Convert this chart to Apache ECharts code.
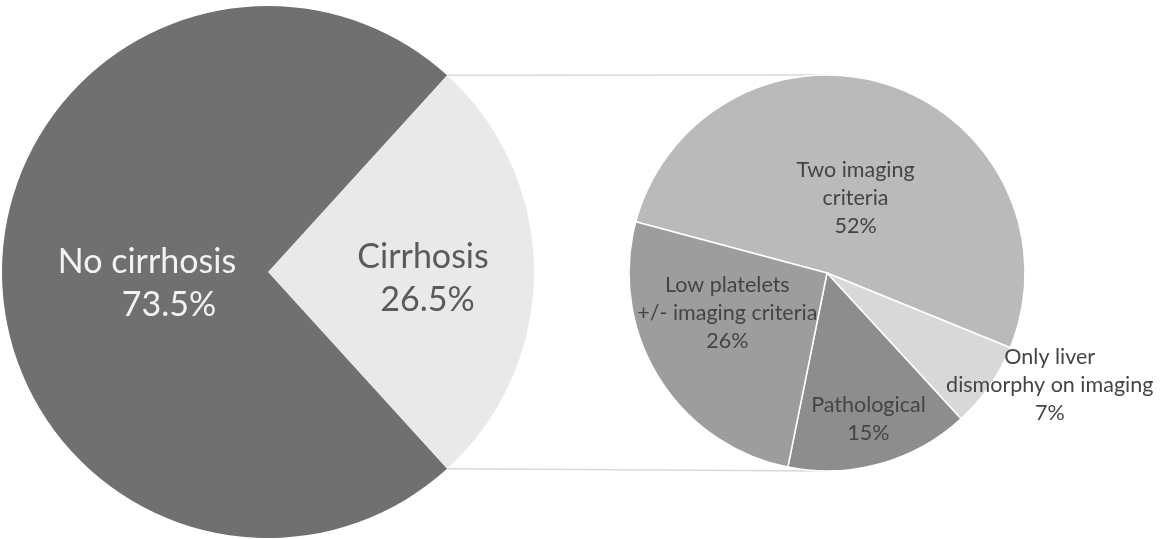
<!DOCTYPE html>
<html>
<head>
<meta charset="utf-8">
<script src="https://cdn.jsdelivr.net/npm/echarts@6/dist/echarts.min.js"></script>
<style>
  html, body { margin: 0; padding: 0; background: #fff; }
  #main { width: 1163px; height: 539px; }
</style>
</head>
<body>
<div id="main"></div>
<script>
// main split
const mainNames = ['Cirrhosis', 'No cirrhosis'];
const mainValues = [26.5, 73.5];

// breakdown of the cirrhosis group
const subNames = ['Two imaging\ncriteria', 'Only liver\ndismorphy on imaging', 'Pathological', 'Low platelets\n+/- imaging criteria'];
const subValues = [52, 7, 15, 26];

const mainColors = ['#e9e9e9', '#707070'];
const subColors = ['#bababa', '#d8d8d8', '#8d8d8d', '#9d9d9d'];

// layout (pixels)
const bigC = [268, 272], bigR = 266;
const smallC = [827, 273], smallR = 198;

// label nudges from the default inside spot
const mainShift = [[19, 7], [15, 12]];
const subShift = [[-4, 22], [139, 54], [14, 48], [-13, -14]];

const total = mainValues.reduce((a, b) => a + b, 0);
const half = mainValues[0] / total * Math.PI; // half-angle of cirrhosis slice
const cornerTop = [bigC[0] + bigR * Math.cos(half), bigC[1] - bigR * Math.sin(half)];
const cornerBot = [bigC[0] + bigR * Math.cos(half), bigC[1] + bigR * Math.sin(half)];

const chart = echarts.init(document.getElementById('main'));

chart.setOption({
  backgroundColor: '#fff',
  animation: false,
  graphic: [
    { type: 'line', z: -1, shape: { x1: cornerTop[0], y1: cornerTop[1], x2: smallC[0], y2: smallC[1] - smallR },
      style: { stroke: '#d9d9d9', lineWidth: 1.5 } },
    { type: 'line', z: -1, shape: { x1: cornerBot[0], y1: cornerBot[1], x2: smallC[0], y2: smallC[1] + smallR },
      style: { stroke: '#d9d9d9', lineWidth: 1.5 } }
  ],
  series: [
    {
      type: 'pie',
      center: bigC,
      radius: bigR,
      startAngle: mainValues[0] / total * 180,
      clockwise: true,
      emphasis: { disabled: true },
      labelLine: { show: false },
      itemStyle: { borderWidth: 0 },
      labelLayout: p => ({ dx: mainShift[p.dataIndex][0], dy: mainShift[p.dataIndex][1] }),
      data: mainNames.map((n, i) => ({
        name: n,
        value: mainValues[i],
        itemStyle: { color: mainColors[i] },
        label: {
          show: true,
          position: 'inside',
          formatter: '{n|{b}}\n{p|{c}%}',
          rich: {
            n: { fontFamily: 'Lato', fontSize: 34, lineHeight: 43, color: i === 0 ? '#5a5a5a' : '#f2f2f2' },
            p: { fontFamily: 'Lato', fontSize: 34, lineHeight: 43, color: i === 0 ? '#5a5a5a' : '#f2f2f2',
                 padding: i === 0 ? [0, 0, 0, 9] : [0, 0, 0, 44] }
          }
        }
      }))
    },
    {
      type: 'pie',
      center: smallC,
      radius: smallR,
      startAngle: 165,
      clockwise: true,
      emphasis: { disabled: true },
      labelLine: { show: false },
      itemStyle: { borderColor: '#fff', borderWidth: 1.5 },
      labelLayout: p => ({ dx: subShift[p.dataIndex][0], dy: subShift[p.dataIndex][1] }),
      label: {
        show: true,
        position: 'inside',
        formatter: '{b}\n{c}%',
        fontFamily: 'Lato',
        fontSize: 21.5,
        lineHeight: 28,
        color: '#444',
        align: 'center'
      },
      data: subNames.map((n, i) => ({
        name: n,
        value: subValues[i],
        itemStyle: { color: subColors[i] }
      }))
    }
  ]
});
</script>
</body>
</html>
